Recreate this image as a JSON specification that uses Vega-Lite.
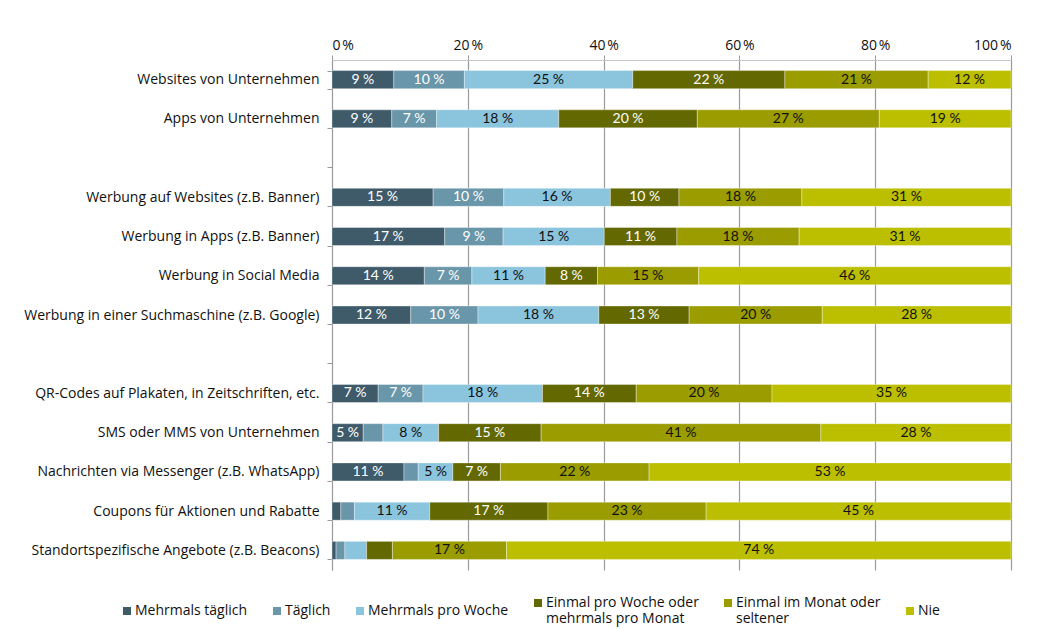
{
  "$schema": "https://vega.github.io/schema/vega-lite/v6.json",
  "width": 679,
  "height": 510,
  "autosize": {"type": "none"},
  "padding": {"left": 332, "top": 60, "right": 29, "bottom": 60},
  "background": "white",
  "config": {"view": {"stroke": null}, "font": "Open Sans"},
  "data": {"values": [
    {"category": "Websites von Unternehmen", "frequency": "Mehrmals täglich", "rank": 0, "value": 9.1},
    {"category": "Websites von Unternehmen", "frequency": "Täglich", "rank": 1, "value": 10.4},
    {"category": "Websites von Unternehmen", "frequency": "Mehrmals pro Woche", "rank": 2, "value": 24.8},
    {"category": "Websites von Unternehmen", "frequency": "Einmal pro Woche oder mehrmals pro Monat", "rank": 3, "value": 22.4},
    {"category": "Websites von Unternehmen", "frequency": "Einmal im Monat oder seltener", "rank": 4, "value": 21.1},
    {"category": "Websites von Unternehmen", "frequency": "Nie", "rank": 5, "value": 12.2},
    {"category": "Apps von Unternehmen", "frequency": "Mehrmals täglich", "rank": 0, "value": 8.8},
    {"category": "Apps von Unternehmen", "frequency": "Täglich", "rank": 1, "value": 6.6},
    {"category": "Apps von Unternehmen", "frequency": "Mehrmals pro Woche", "rank": 2, "value": 18.0},
    {"category": "Apps von Unternehmen", "frequency": "Einmal pro Woche oder mehrmals pro Monat", "rank": 3, "value": 20.4},
    {"category": "Apps von Unternehmen", "frequency": "Einmal im Monat oder seltener", "rank": 4, "value": 26.8},
    {"category": "Apps von Unternehmen", "frequency": "Nie", "rank": 5, "value": 19.4},
    {"category": "Werbung auf Websites (z.B. Banner)", "frequency": "Mehrmals täglich", "rank": 0, "value": 14.9},
    {"category": "Werbung auf Websites (z.B. Banner)", "frequency": "Täglich", "rank": 1, "value": 10.4},
    {"category": "Werbung auf Websites (z.B. Banner)", "frequency": "Mehrmals pro Woche", "rank": 2, "value": 15.7},
    {"category": "Werbung auf Websites (z.B. Banner)", "frequency": "Einmal pro Woche oder mehrmals pro Monat", "rank": 3, "value": 10.1},
    {"category": "Werbung auf Websites (z.B. Banner)", "frequency": "Einmal im Monat oder seltener", "rank": 4, "value": 18.1},
    {"category": "Werbung auf Websites (z.B. Banner)", "frequency": "Nie", "rank": 5, "value": 30.8},
    {"category": "Werbung in Apps (z.B. Banner)", "frequency": "Mehrmals täglich", "rank": 0, "value": 16.6},
    {"category": "Werbung in Apps (z.B. Banner)", "frequency": "Täglich", "rank": 1, "value": 8.6},
    {"category": "Werbung in Apps (z.B. Banner)", "frequency": "Mehrmals pro Woche", "rank": 2, "value": 14.9},
    {"category": "Werbung in Apps (z.B. Banner)", "frequency": "Einmal pro Woche oder mehrmals pro Monat", "rank": 3, "value": 10.7},
    {"category": "Werbung in Apps (z.B. Banner)", "frequency": "Einmal im Monat oder seltener", "rank": 4, "value": 18.0},
    {"category": "Werbung in Apps (z.B. Banner)", "frequency": "Nie", "rank": 5, "value": 31.2},
    {"category": "Werbung in Social Media", "frequency": "Mehrmals täglich", "rank": 0, "value": 13.6},
    {"category": "Werbung in Social Media", "frequency": "Täglich", "rank": 1, "value": 7.0},
    {"category": "Werbung in Social Media", "frequency": "Mehrmals pro Woche", "rank": 2, "value": 10.8},
    {"category": "Werbung in Social Media", "frequency": "Einmal pro Woche oder mehrmals pro Monat", "rank": 3, "value": 7.7},
    {"category": "Werbung in Social Media", "frequency": "Einmal im Monat oder seltener", "rank": 4, "value": 14.9},
    {"category": "Werbung in Social Media", "frequency": "Nie", "rank": 5, "value": 46.0},
    {"category": "Werbung in einer Suchmaschine (z.B. Google)", "frequency": "Mehrmals täglich", "rank": 0, "value": 11.6},
    {"category": "Werbung in einer Suchmaschine (z.B. Google)", "frequency": "Täglich", "rank": 1, "value": 9.9},
    {"category": "Werbung in einer Suchmaschine (z.B. Google)", "frequency": "Mehrmals pro Woche", "rank": 2, "value": 17.8},
    {"category": "Werbung in einer Suchmaschine (z.B. Google)", "frequency": "Einmal pro Woche oder mehrmals pro Monat", "rank": 3, "value": 13.3},
    {"category": "Werbung in einer Suchmaschine (z.B. Google)", "frequency": "Einmal im Monat oder seltener", "rank": 4, "value": 19.6},
    {"category": "Werbung in einer Suchmaschine (z.B. Google)", "frequency": "Nie", "rank": 5, "value": 27.8},
    {"category": "QR-Codes auf Plakaten, in Zeitschriften, etc.", "frequency": "Mehrmals täglich", "rank": 0, "value": 6.8},
    {"category": "QR-Codes auf Plakaten, in Zeitschriften, etc.", "frequency": "Täglich", "rank": 1, "value": 6.6},
    {"category": "QR-Codes auf Plakaten, in Zeitschriften, etc.", "frequency": "Mehrmals pro Woche", "rank": 2, "value": 17.6},
    {"category": "QR-Codes auf Plakaten, in Zeitschriften, etc.", "frequency": "Einmal pro Woche oder mehrmals pro Monat", "rank": 3, "value": 13.8},
    {"category": "QR-Codes auf Plakaten, in Zeitschriften, etc.", "frequency": "Einmal im Monat oder seltener", "rank": 4, "value": 20.0},
    {"category": "QR-Codes auf Plakaten, in Zeitschriften, etc.", "frequency": "Nie", "rank": 5, "value": 35.2},
    {"category": "SMS oder MMS von Unternehmen", "frequency": "Mehrmals täglich", "rank": 0, "value": 4.6},
    {"category": "SMS oder MMS von Unternehmen", "frequency": "Täglich", "rank": 1, "value": 2.9},
    {"category": "SMS oder MMS von Unternehmen", "frequency": "Mehrmals pro Woche", "rank": 2, "value": 8.2},
    {"category": "SMS oder MMS von Unternehmen", "frequency": "Einmal pro Woche oder mehrmals pro Monat", "rank": 3, "value": 15.1},
    {"category": "SMS oder MMS von Unternehmen", "frequency": "Einmal im Monat oder seltener", "rank": 4, "value": 41.2},
    {"category": "SMS oder MMS von Unternehmen", "frequency": "Nie", "rank": 5, "value": 28.0},
    {"category": "Nachrichten via Messenger (z.B. WhatsApp)", "frequency": "Mehrmals täglich", "rank": 0, "value": 10.6},
    {"category": "Nachrichten via Messenger (z.B. WhatsApp)", "frequency": "Täglich", "rank": 1, "value": 2.1},
    {"category": "Nachrichten via Messenger (z.B. WhatsApp)", "frequency": "Mehrmals pro Woche", "rank": 2, "value": 5.1},
    {"category": "Nachrichten via Messenger (z.B. WhatsApp)", "frequency": "Einmal pro Woche oder mehrmals pro Monat", "rank": 3, "value": 7.0},
    {"category": "Nachrichten via Messenger (z.B. WhatsApp)", "frequency": "Einmal im Monat oder seltener", "rank": 4, "value": 21.9},
    {"category": "Nachrichten via Messenger (z.B. WhatsApp)", "frequency": "Nie", "rank": 5, "value": 53.3},
    {"category": "Coupons für Aktionen und Rabatte", "frequency": "Mehrmals täglich", "rank": 0, "value": 1.3},
    {"category": "Coupons für Aktionen und Rabatte", "frequency": "Täglich", "rank": 1, "value": 2.0},
    {"category": "Coupons für Aktionen und Rabatte", "frequency": "Mehrmals pro Woche", "rank": 2, "value": 11.1},
    {"category": "Coupons für Aktionen und Rabatte", "frequency": "Einmal pro Woche oder mehrmals pro Monat", "rank": 3, "value": 17.4},
    {"category": "Coupons für Aktionen und Rabatte", "frequency": "Einmal im Monat oder seltener", "rank": 4, "value": 23.3},
    {"category": "Coupons für Aktionen und Rabatte", "frequency": "Nie", "rank": 5, "value": 44.9},
    {"category": "Standortspezifische Angebote (z.B. Beacons)", "frequency": "Mehrmals täglich", "rank": 0, "value": 0.6},
    {"category": "Standortspezifische Angebote (z.B. Beacons)", "frequency": "Täglich", "rank": 1, "value": 1.3},
    {"category": "Standortspezifische Angebote (z.B. Beacons)", "frequency": "Mehrmals pro Woche", "rank": 2, "value": 3.2},
    {"category": "Standortspezifische Angebote (z.B. Beacons)", "frequency": "Einmal pro Woche oder mehrmals pro Monat", "rank": 3, "value": 3.8},
    {"category": "Standortspezifische Angebote (z.B. Beacons)", "frequency": "Einmal im Monat oder seltener", "rank": 4, "value": 16.8},
    {"category": "Standortspezifische Angebote (z.B. Beacons)", "frequency": "Nie", "rank": 5, "value": 74.3}
  ]},
  "transform": [
    {"stack": "value", "groupby": ["category"], "sort": [{"field": "rank", "order": "ascending"}], "as": ["x0", "x1"]}
  ],
  "encoding": {
    "y": {
      "field": "category",
      "type": "nominal",
      "title": null,
      "scale": {
        "domain": [
          "Websites von Unternehmen",
          "Apps von Unternehmen",
          "_gap1",
          "Werbung auf Websites (z.B. Banner)",
          "Werbung in Apps (z.B. Banner)",
          "Werbung in Social Media",
          "Werbung in einer Suchmaschine (z.B. Google)",
          "_gap2",
          "QR-Codes auf Plakaten, in Zeitschriften, etc.",
          "SMS oder MMS von Unternehmen",
          "Nachrichten via Messenger (z.B. WhatsApp)",
          "Coupons für Aktionen und Rabatte",
          "Standortspezifische Angebote (z.B. Beacons)"
        ],
        "paddingInner": 0.54,
        "paddingOuter": 0.27
      },
      "axis": {
        "labelExpr": "indexof(datum.label, '_gap') == 0 ? '' : datum.label",
        "labelFontSize": 14,
        "labelLimit": 400,
        "labelColor": "#111111",
        "labelPadding": 8,
        "domainColor": "#9a9a9a",
        "tickColor": "#9a9a9a",
        "tickSize": 5,
        "tickBand": "extent",
        "grid": false
      }
    }
  },
  "layer": [
    {
      "mark": {"type": "bar", "stroke": "white", "strokeWidth": 0.6, "strokeOpacity": 0.6},
      "encoding": {
        "x": {
          "field": "x0",
          "type": "quantitative",
          "title": null,
          "scale": {"domain": [0, 100], "nice": false},
          "axis": {
            "orient": "top",
            "values": [0, 20, 40, 60, 80, 100],
            "labelExpr": "datum.value + '\u202f%'",
            "labelFontSize": 14,
            "labelColor": "#111111",
            "labelPadding": 3,
            "grid": true,
            "gridColor": "#9a9a9a",
            "gridWidth": 1.2,
            "tickColor": "#9a9a9a",
            "tickSize": 5,
            "domainColor": "#c8c8c8"
          }
        },
        "x2": {"field": "x1"},
        "order": {"field": "rank", "type": "quantitative"},
        "color": {
          "field": "frequency",
          "type": "nominal",
          "scale": {
            "domain": [
              "Mehrmals täglich",
              "Täglich",
              "Mehrmals pro Woche",
              "Einmal pro Woche oder mehrmals pro Monat",
              "Einmal im Monat oder seltener",
              "Nie"
            ],
            "range": ["#3f5b6a", "#6a96aa", "#8ac4dd", "#636900", "#9a9c00", "#bbbf00"]
          },
          "legend": {
            "title": null,
            "orient": "none",
            "legendX": -212,
            "legendY": 536,
            "direction": "horizontal",
            "columns": 6,
            "columnPadding": 22,
            "symbolType": "square",
            "symbolSize": 64,
            "symbolStrokeWidth": 0,
            "labelFontSize": 14,
            "labelColor": "#111111",
            "labelOffset": 1,
            "labelExpr": "datum.label == 'Einmal pro Woche oder mehrmals pro Monat' ? ['Einmal pro Woche oder', 'mehrmals pro Monat'] : datum.label == 'Einmal im Monat oder seltener' ? ['Einmal im Monat oder', 'seltener'] : datum.label"
          }
        }
      }
    },
    {
      "transform": [
        {"filter": "datum.value >= 4.5"},
        {"calculate": "(datum.x0 + datum.x1) / 2", "as": "xm"},
        {"calculate": "format(datum.value, '.0f') + '\u202f%'", "as": "lab"}
      ],
      "mark": {"type": "text", "font": "Lato", "fontSize": 14},
      "encoding": {
        "x": {"field": "xm", "type": "quantitative"},
        "text": {"field": "lab"},
        "color": {
          "condition": {"test": "datum.rank == 0 || datum.rank == 1 || datum.rank == 3", "value": "white"},
          "value": "#111111"
        }
      }
    }
  ]
}
